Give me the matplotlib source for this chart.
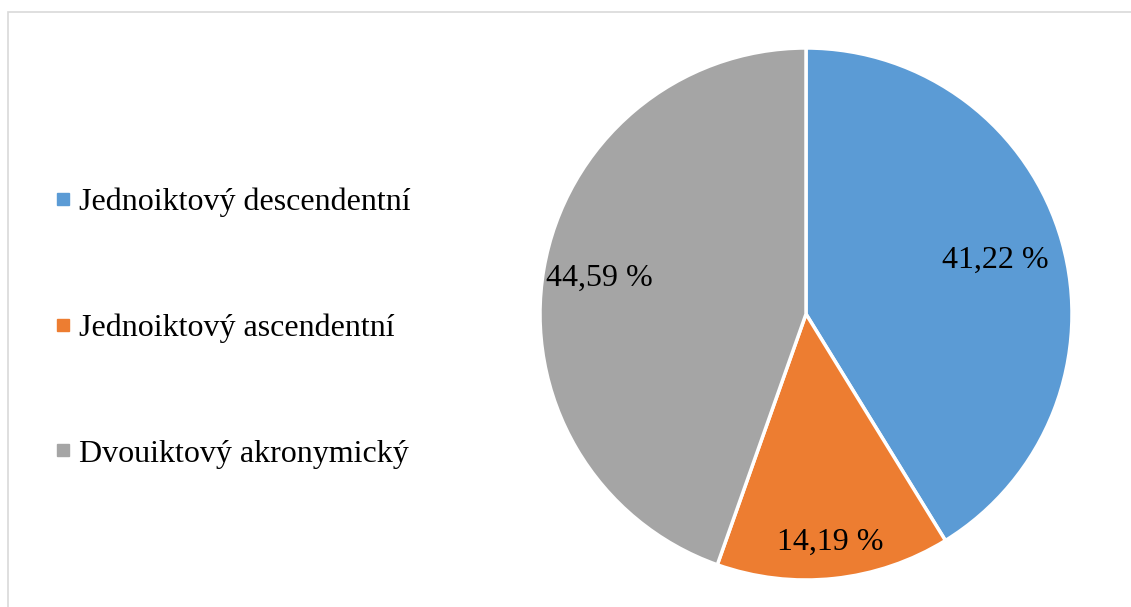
import numpy as np
import matplotlib.pyplot as plt
from matplotlib.lines import Line2D
from matplotlib.patches import Rectangle

plt.rcParams['font.family'] = ['Liberation Serif', 'DejaVu Serif']

categories = ['Jednoiktový descendentní', 'Jednoiktový ascendentní', 'Dvouiktový akronymický']
shares = [41.22, 14.19, 44.59]
colors = ['#5B9BD5', '#ED7D31', '#A5A5A5']
label_dist = [0.74, 0.865, 0.79]

W, H = 1131, 607
fig = plt.figure(figsize=(W / 100, H / 100), dpi=100)

# pie axes: centre at (806, 314) px, radius 266 px
cx, cy, r = 806 / W, 1 - 314 / H, 266
ax = fig.add_axes([cx - r / W, cy - r / H, 2 * r / W, 2 * r / H])
wedges, _ = ax.pie(shares, colors=colors, startangle=90, counterclock=False,
                   wedgeprops=dict(edgecolor='white', linewidth=2.5))
ax.set_xlim(-1, 1)
ax.set_ylim(-1, 1)
ax.axis('off')

for w, val, d in zip(wedges, shares, label_dist):
    ang = np.deg2rad((w.theta1 + w.theta2) / 2)
    ax.text(d * np.cos(ang), d * np.sin(ang), f'{val:.2f} %'.replace('.', ','),
            ha='center', va='center', fontsize=23, color='black')

# light frame
fig.add_artist(Rectangle((8 / W, -0.05), 1.1, 1 - 12 / H + 0.05, transform=fig.transFigure,
                         fill=False, edgecolor='#D9D9D9', linewidth=1.2))

handles = [Line2D([], [], marker='s', linestyle='none', markersize=8,
                  markerfacecolor=c, markeredgecolor=c) for c in colors]
fig.legend(handles, categories, loc='center left', bbox_to_anchor=(37 / W, 1 - 328 / H),
           frameon=False, fontsize=23, labelspacing=3.02, handlelength=0.6,
           handletextpad=0.2, borderpad=0)

fig.savefig('out.png', dpi=100)
